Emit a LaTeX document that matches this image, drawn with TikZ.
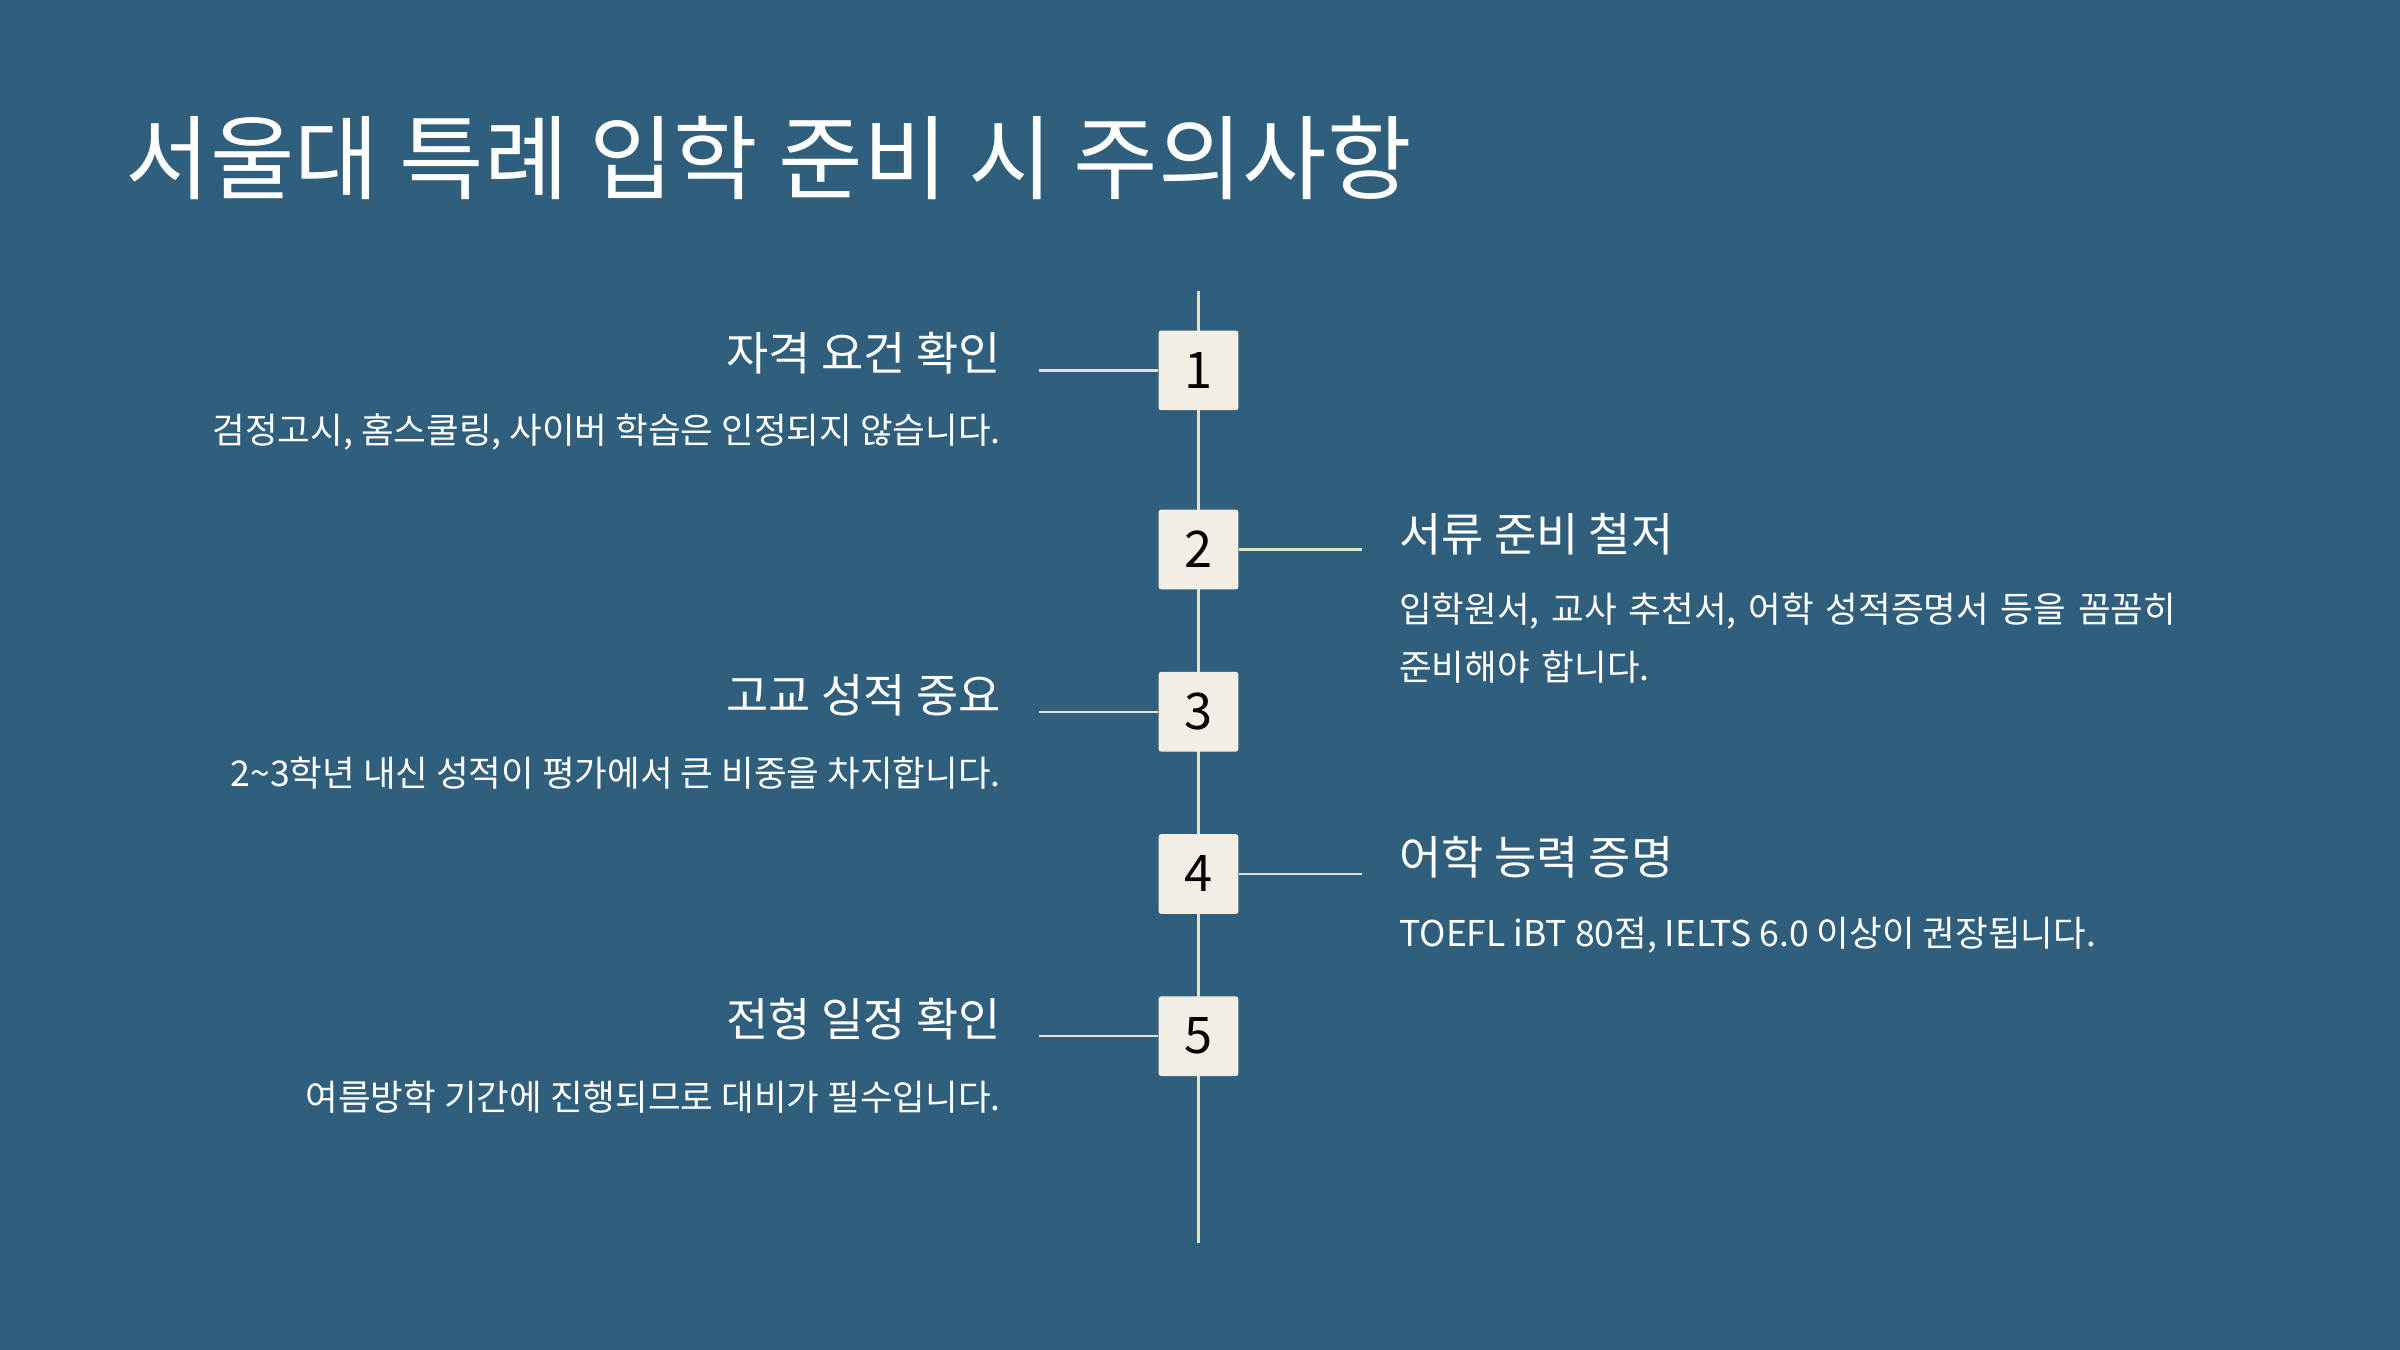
\documentclass[tikz,border=0pt]{standalone}
\usepackage{fontspec}
\setmainfont{Noto Sans CJK KR}
\newfontfamily\numfont{Noto Sans CJK KR Medium}
\definecolor{bg}{HTML}{305E7D}
\definecolor{cream}{HTML}{F3EEE3}
\definecolor{linec}{HTML}{E6E0D2}
\begin{document}
\begin{tikzpicture}[x=1pt,y=-1pt,
  numbox/.style={fill=cream,draw=none,rounded corners=1.5pt,minimum size=52pt,inner sep=0pt,font=\fontsize{33}{33}\selectfont,text=black},
  conn/.style={draw=linec,line width=1.6pt},
  headL/.style={anchor=east,text=white,font=\fontsize{30}{30}\selectfont,inner sep=0pt},
  bodyL/.style={anchor=east,text=white,font=\fontsize{23.2}{23.2}\selectfont,inner sep=0pt},
  headR/.style={anchor=west,text=white,font=\fontsize{30}{30}\selectfont,inner sep=0pt},
  bodyR/.style={anchor=north west,text=white,font=\fontsize{23.2}{38}\selectfont,inner sep=0pt,align=left,text width=570pt}]
\fill[bg] (0,0) rectangle (1568,882);
\useasboundingbox (0,0) rectangle (1568,882);
\node[anchor=west,text=white,font=\fontsize{60}{60}\selectfont,inner sep=0pt] (title) at (82,103) {서울대 특례 입학 준비 시 주의사항};
\coordinate (top) at (783,190);
\coordinate (bot) at (783,812);
\draw[conn] (top) -- (bot);
\node[numbox] (n1) at (783,242) {1};
\node[numbox] (n2) at (783,359) {2};
\node[numbox] (n3) at (783,465) {3};
\node[numbox] (n4) at (783,571) {4};
\node[numbox] (n5) at (783,677) {5};
\coordinate (l1) at (679,242);
\coordinate (r2) at (890,359);
\coordinate (l3) at (679,465);
\coordinate (r4) at (890,571);
\coordinate (l5) at (679,677);
\draw[conn] (l1) -- (n1.west);
\draw[conn] (n2.east) -- (r2);
\draw[conn] (l3) -- (n3.west);
\draw[conn] (n4.east) -- (r4);
\draw[conn] (l5) -- (n5.west);
\node[headL] (h1) at (654,231) {자격 요건 확인};
\node[bodyL] (b1) at (654,282) {검정고시, 홈스쿨링, 사이버 학습은 인정되지 않습니다.};
\node[headR] (h2) at (914,349) {서류 준비 철저};
\node[bodyR] (b2) at (914,387) {입학원서, 교사 추천서, 어학 성적증명서 등을 꼼꼼히 준비해야 합니다.};
\node[headL] (h3) at (654,454) {고교 성적 중요};
\node[bodyL] (b3) at (654,505) {2\textasciitilde3학년 내신 성적이 평가에서 큰 비중을 차지합니다.};
\node[headR] (h4) at (914,560) {어학 능력 증명};
\node[anchor=west,text=white,font=\fontsize{23.2}{23.2}\selectfont,inner sep=0pt] (b4) at (914,611) {TOEFL iBT 80점, IELTS 6.0 이상이 권장됩니다.};
\node[headL] (h5) at (654,666) {전형 일정 확인};
\node[bodyL] (b5) at (654,717) {여름방학 기간에 진행되므로 대비가 필수입니다.};
\end{tikzpicture}
\end{document}
